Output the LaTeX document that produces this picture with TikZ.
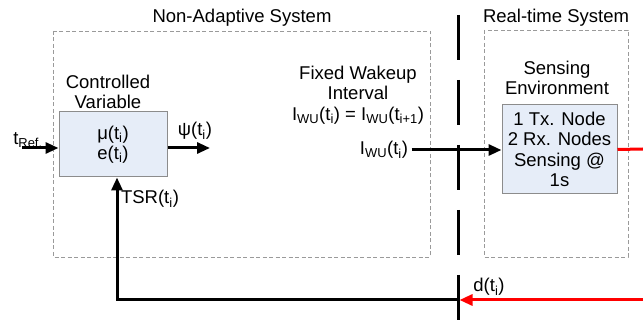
\documentclass[tikz,border=0pt]{standalone}
\usepackage{fontspec}
\setmainfont{Liberation Sans}
\usepackage{xcolor}
\usetikzlibrary{arrows.meta, positioning, calc}

\definecolor{boxfill}{HTML}{E6EDF8}
\definecolor{boxline}{HTML}{8C8C8C}
\definecolor{sysline}{HTML}{9A9A9A}

\newcommand{\ofti}{(t\textsubscript{i})}

\begin{document}
\begin{tikzpicture}[x=1pt,y=-1pt,
  >={Triangle[length=13pt,width=11pt]},
  every node/.style={font=\fontsize{18.5}{20.5}\selectfont},
  sysbox/.style={draw=sysline, line width=0.8pt, dash pattern=on 4pt off 2.5pt},
  blockbox/.style={draw=boxline, fill=boxfill, line width=1pt, align=center, inner sep=0pt},
  sig/.style={line width=3pt},
  redsig/.style={line width=3pt, red}]

\useasboundingbox (0,0) rectangle (643,320);

%---------------- Systems ----------------%
\draw[sysbox] (53,31) rectangle (430,257);
\draw[sysbox] (484,30) rectangle (628,257);
\node (nastitle) at (242,18) {Non-Adaptive System};
\node (rtstitle) at (556,18) {Real-time System};

%---------------- Divider ----------------%
\draw[line width=3pt, dash pattern=on 45pt off 20pt] (458,15) -- (458,320);

%---------------- Blocks ----------------%
\node[blockbox, minimum width=108pt, minimum height=65pt] (ctrl) at (113,144.5)
      {μ\ofti\\e\ofti};
\node[align=center] (ctrllbl) at (108,92) {Controlled\\Variable};

\node[blockbox, minimum width=115pt, minimum height=89pt] (sense) at (559.5,149.5)
      {1 Tx. Node\\2 Rx. Nodes\\Sensing @\\1s};
\node[align=center] (senselbl) at (557,78) {Sensing\\Environment};

\node[align=center] (fixlbl) at (358,95)
      {Fixed Wakeup\\Interval\\I\textsubscript{WU}\ofti{} = I\textsubscript{WU}(t\textsubscript{i+1})};

%---------------- Signals ----------------%
\coordinate (tref) at (22,148);
\node (treflbl) at (28,140) {t\textsubscript{Ref.}};
\draw[sig,->] (tref) -- (tref -| ctrl.west);

\coordinate (psiend) at (210,148);
\draw[sig,->] (psiend -| ctrl.east) -- (psiend);
\node (psilbl) at (195,131) {ψ\ofti};

\node (iwu) at (384,150) {I\textsubscript{WU}\ofti};
\draw[sig,->] (iwu.east) -- (iwu.east -| sense.west);

\coordinate (rtout) at (643,149);
\draw[redsig] (sense.east) -- (rtout);

%---------------- Feedback ----------------%
\coordinate (dsrc) at (643,300);
\coordinate (dsplit) at (458,300);
\draw[redsig,->] (dsrc) -- ([xshift=1.5pt]dsplit);
\node (dlbl) at (489,287) {d\ofti};

\draw[sig,->] (dsplit) -| ([xshift=4pt]ctrl.south);
\node (tsrlbl) at (150,199) {TSR\ofti};

\end{tikzpicture}
\end{document}
